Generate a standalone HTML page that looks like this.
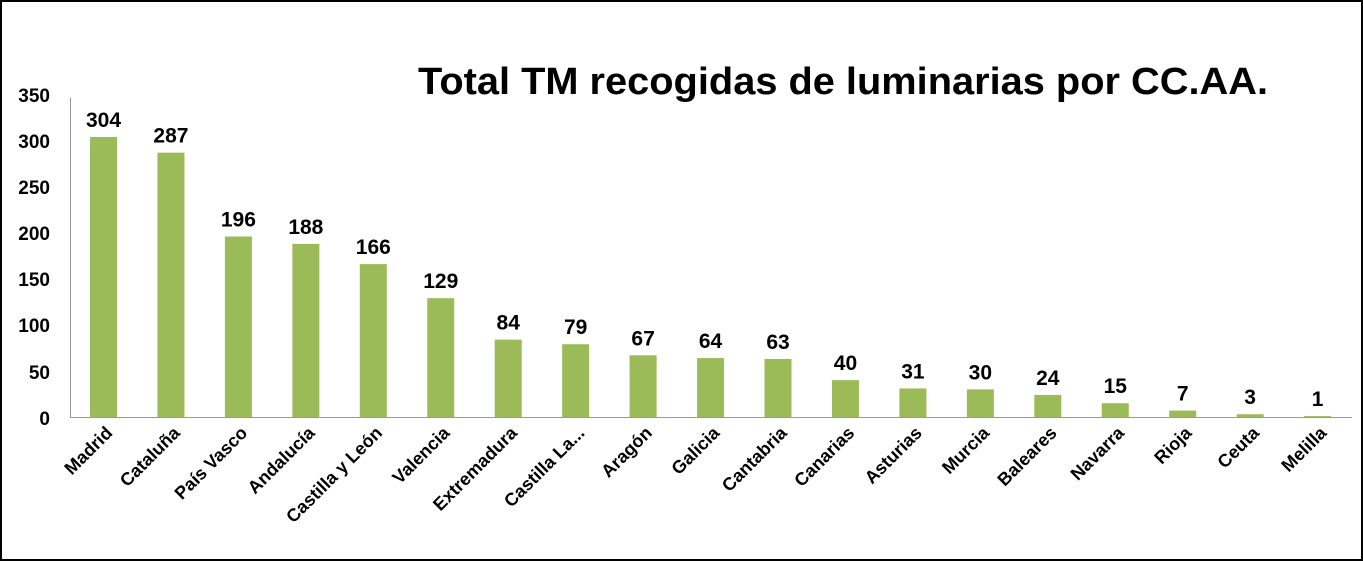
<!DOCTYPE html>
<html><head><meta charset="utf-8"><style>
body{margin:0;background:#fff}
svg{display:block}
text{font-family:"Liberation Sans",sans-serif;fill:#000}
</style></head><body>
<svg width="1363" height="561" viewBox="0 0 1363 561">
<rect x="1" y="1" width="1361" height="559" fill="#fff" stroke="#000" stroke-width="2"/>
<text x="843" y="94" text-anchor="middle" font-size="38" font-weight="bold" textLength="850" lengthAdjust="spacingAndGlyphs">Total TM recogidas de luminarias por CC.AA.</text>
<g font-size="19" text-anchor="end" font-weight="bold" fill="#111">
<text x="50" y="102">350</text><text x="50" y="148">300</text><text x="50" y="194">250</text>
<text x="50" y="240">200</text><text x="50" y="286">150</text><text x="50" y="332">100</text>
<text x="50" y="379">50</text><text x="50" y="425">0</text>
</g>
<line x1="70.5" y1="98" x2="70.5" y2="417" stroke="#999" stroke-width="1"/>
<line x1="70" y1="417.5" x2="1352" y2="417.5" stroke="#999" stroke-width="1"/>
<g id="bars"></g>
</svg>
<script>
var d=[["Madrid",304],["Cataluña",287],["País Vasco",196],["Andalucía",188],["Castilla y León",166],["Valencia",129],["Extremadura",84],["Castilla La...",79],["Aragón",67],["Galicia",64],["Cantabria",63],["Canarias",40],["Asturias",31],["Murcia",30],["Baleares",24],["Navarra",15],["Rioja",7],["Ceuta",3],["Melilla",1]];
var g=document.getElementById('bars'),s='';
d.forEach(function(e,i){var cx=103.5+i*67.45,h=e[1]*0.921,y=417-h;
s+='<rect x="'+(cx-13.5)+'" y="'+y+'" width="27" height="'+h+'" fill="#9bbb59"/>';
s+='<text x="'+cx+'" y="'+(y-10)+'" text-anchor="middle" font-size="21" font-weight="bold">'+e[1]+'</text>';
s+='<text transform="translate('+(cx+10)+',434) rotate(-45)" text-anchor="end" font-size="18" font-weight="bold">'+e[0]+'</text>';});
g.innerHTML=s;
</script>
</body></html>
